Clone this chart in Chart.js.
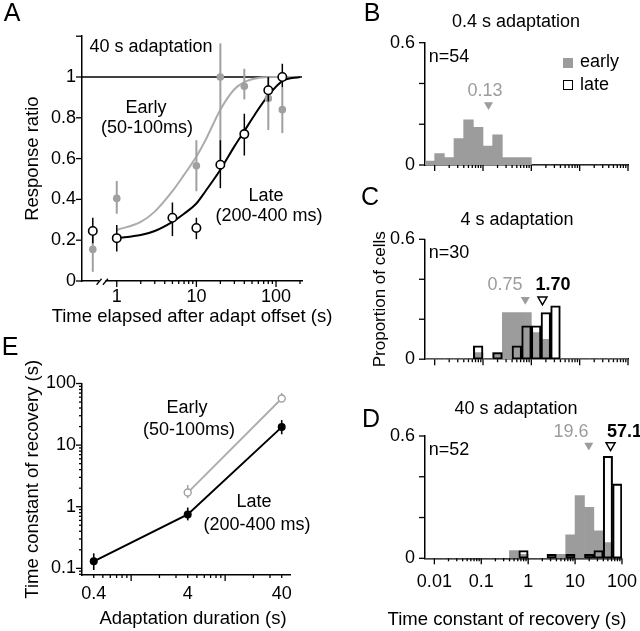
<!DOCTYPE html>
<html>
<head>
<meta charset="utf-8">
<script src="https://cdn.jsdelivr.net/npm/chart.js@4.4.1/dist/chart.umd.min.js"></script>
<style>
  html, body { margin: 0; background: #fff; }
  #fig { position: relative; width: 640px; height: 631px; overflow: hidden; font-family: "Liberation Sans", Arial, sans-serif; color: #000; }
  .box { position: absolute; }
  .t { position: absolute; transform: translate(-50%, -50%); white-space: nowrap; font-size: 18px; line-height: 18px; }
  .t.left { transform: translate(0, -50%); }
  .t.axt { font-size: 18.5px; line-height: 18.5px; }
  .letter { font-size: 25px; line-height: 25px; }
  .gray { color: #9c9c9c; }
  .bold { font-weight: bold; }
  .sq { position: absolute; width: 10px; height: 10px; box-sizing: border-box; }
</style>
</head>
<body>
<div id="fig">
  <div class="box" style="left:0;top:0;width:330px;height:330px"><canvas id="chartA"></canvas></div>
  <div class="box" style="left:330px;top:0;width:320px;height:190px"><canvas id="chartB"></canvas></div>
  <div class="box" style="left:330px;top:190px;width:320px;height:190px"><canvas id="chartC"></canvas></div>
  <div class="box" style="left:330px;top:380px;width:320px;height:251px"><canvas id="chartD"></canvas></div>
  <div class="box" style="left:0;top:330px;width:330px;height:301px"><canvas id="chartE"></canvas></div>

  <!-- panel letters -->
  <div class="t letter" style="left:12px;top:12px">A</div>
  <div class="t letter" style="left:372px;top:12px">B</div>
  <div class="t letter" style="left:370px;top:196px">C</div>
  <div class="t letter" style="left:371px;top:418px">D</div>
  <div class="t letter" style="left:10px;top:346px">E</div>

  <!-- A -->
  <div class="t" style="left:151px;top:46px">40 s adaptation</div>
  <div class="t" style="left:146px;top:107px">Early</div>
  <div class="t" style="left:147px;top:127px">(50-100ms)</div>
  <div class="t" style="left:266px;top:195px">Late</div>
  <div class="t" style="left:269px;top:215px">(200-400 ms)</div>
  <div class="t axt" style="left:192px;top:316px">Time elapsed after adapt offset (s)</div>

  <!-- B -->
  <div class="t" style="left:516px;top:21px">0.4 s adaptation</div>
  <div class="t" style="left:449px;top:56px">n=54</div>
  <div class="sq" style="left:563px;top:58px;background:#9c9c9c"></div>
  <div class="t left" style="left:580px;top:61px">early</div>
  <div class="sq" style="left:563px;top:80px;border:1.5px solid #000"></div>
  <div class="t left" style="left:580px;top:84px">late</div>
  <div class="t gray" style="left:485px;top:90px">0.13</div>

  <!-- C -->
  <div class="t" style="left:517px;top:219px">4 s adaptation</div>
  <div class="t" style="left:449px;top:252px">n=30</div>
  <div class="t gray" style="left:505px;top:284px">0.75</div>
  <div class="t bold" style="left:553px;top:284px">1.70</div>

  <!-- D -->
  <div class="t" style="left:516px;top:408px">40 s adaptation</div>
  <div class="t" style="left:449px;top:449px">n=52</div>
  <div class="t gray" style="left:571px;top:431px">19.6</div>
  <div class="t left bold" style="left:607px;top:431px">57.1</div>
  <div class="t axt" style="left:507px;top:619px">Time constant of recovery (s)</div>

  <!-- E -->
  <div class="t" style="left:187px;top:407px">Early</div>
  <div class="t" style="left:189px;top:429px">(50-100ms)</div>
  <div class="t" style="left:254px;top:501px">Late</div>
  <div class="t" style="left:257px;top:524px">(200-400 ms)</div>
  <div class="t axt" style="left:193px;top:618px">Adaptation duration (s)</div>
</div>

<script>
// DATA ---------------------------------------------------------------------------
// A: recovery of response ratio, 40 s adaptation
const timeLate = [0.5, 1, 5, 10, 20, 40, 80, 120];
const ratioLate = [0.245, 0.21, 0.31, 0.26, 0.57, 0.72, 0.935, 1.0];
const ratioLateLo = [0.185, 0.145, 0.22, 0.205, 0.455, 0.615, 0.88, 0.95];
const ratioLateHi = [0.31, 0.275, 0.385, 0.31, 0.69, 0.82, 1.0, 1.065];

const timeEarly = [0.5, 1, 10, 20, 40, 80, 120];
const ratioEarly = [0.155, 0.405, 0.565, 1.0, 0.955, 0.895, 0.84];
const ratioEarlyLo = [0.045, 0.33, 0.44, 0.58, 0.89, 0.74, 0.725];
const ratioEarlyHi = [0.265, 0.49, 0.69, 1.165, 1.04, 1.0, 0.95];

// fitted recovery curves
const fitTimeEarly = [1, 2, 3, 5, 7, 10, 13, 20, 30, 40, 60, 100, 200];
const fitEarly = [0.25, 0.29, 0.34, 0.44, 0.52, 0.61, 0.69, 0.84, 0.94, 0.975, 0.995, 1, 1];
const fitTimeLate = [1, 2, 3, 5, 7, 10, 13, 20, 30, 40, 55, 80, 120, 200];
const fitLate = [0.21, 0.225, 0.245, 0.29, 0.33, 0.38, 0.44, 0.545, 0.66, 0.735, 0.82, 0.91, 0.98, 1.0];

const timeTicks = [1, 10, 100];
const timeMinor = [2, 3, 4, 5, 6, 7, 8, 9, 20, 30, 40, 50, 60, 70, 80, 90, 200];
const ratioTicks = [0, 0.2, 0.4, 0.6, 0.8, 1, 1.2];
const axisBreak = [0.6, 0.72];

// B-D: histograms of recovery time constants (proportion of cells)
const histBins = ['0.0079', '0.013', '0.020', '0.032', '0.050', '0.079', '0.13', '0.20', '0.32', '0.50',
                  '0.79', '1.3', '2.0', '3.2', '5.0', '7.9', '13', '20', '32', '50', '79'];
const earlyB = [0.019, 0.056, 0.037, 0.130, 0.222, 0.185, 0.093, 0.148, 0.037, 0.037, 0.037, 0, 0, 0, 0, 0, 0, 0, 0, 0, 0];
const earlyC = [0, 0, 0, 0, 0, 0.033, 0, 0.033, 0.233, 0.233, 0.233, 0.133, 0.100, 0, 0, 0, 0, 0, 0, 0, 0];
const lateC = [0, 0, 0, 0, 0, 0.067, 0, 0.033, 0, 0.067, 0.167, 0.167, 0.233, 0.267, 0, 0, 0, 0, 0, 0, 0];
const earlyD = [0, 0, 0, 0, 0, 0, 0, 0, 0, 0.038, 0.019, 0, 0, 0, 0.019, 0.115, 0.308, 0.250, 0.135, 0.077, 0];
const lateD = [0, 0, 0, 0, 0, 0, 0, 0, 0, 0, 0.038, 0, 0, 0.019, 0, 0.019, 0, 0.019, 0.038, 0.500, 0.365];

const medianB = [0.13];
const medianC = [0.75, 1.70];
const medianD = [19.6, 57.1];

const tauTicks = [0.01, 0.1, 1, 10, 100];
const tauMinor = [0.02, 0.03, 0.04, 0.05, 0.06, 0.07, 0.08, 0.09, 0.2, 0.3, 0.4, 0.5, 0.6, 0.7, 0.8, 0.9,
                  2, 3, 4, 5, 6, 7, 8, 9, 20, 30, 40, 50, 60, 70, 80, 90];
const propTicks = [0, 0.2, 0.4, 0.6];

// E: time constant vs adaptation duration
const durLate = [0.4, 4, 40];
const tauLate = [0.13, 0.75, 19.6];
const tauLateLo = [0.094, 0.6, 15];
const tauLateHi = [0.175, 0.97, 25.5];
const durEarly = [4, 40];
const tauEarly = [1.70, 57.1];
const tauEarlyLo = [1.37, 51];
const tauEarlyHi = [2.25, 70];

const durTicks = [0.4, 4, 40];
const durMajor = [1, 10];
const durMinor = [0.4, 0.5, 0.6, 0.7, 0.8, 0.9, 2, 3, 4, 5, 6, 7, 8, 9, 20, 30, 40];
const tauETicks = [0.1, 1, 10, 100];
const tauEMinor = [0.08, 0.09, 0.2, 0.3, 0.4, 0.5, 0.6, 0.7, 0.8, 0.9, 2, 3, 4, 5, 6, 7, 8, 9,
                   20, 30, 40, 50, 60, 70, 80, 90];

// STYLE ---------------------------------------------------------------------------
const GRAY_BAR = '#9c9c9c';
const GRAY_PT = '#a0a0a0';
const GRAY_LINE = '#acacac';

Chart.defaults.font.family = '"Liberation Sans", Arial, sans-serif';
Chart.defaults.font.size = 18;
Chart.defaults.color = '#000';
Chart.defaults.animation = false;
Chart.defaults.events = [];
Chart.defaults.plugins.legend.display = false;
Chart.defaults.plugins.tooltip.enabled = false;
Chart.defaults.maintainAspectRatio = false;

function pts(xs, ys) {
    return xs.map((x, i) => ({ x: x, y: ys[i] }));
}

function fixedTicks(list) {
    return s => { s.ticks = list.map(v => ({ value: v })); };
}

function axis(extra) {
    return Object.assign({
        grid: { display: false, drawTicks: false },
        border: { color: '#000', width: 1.5 },
        ticks: { autoSkip: false, maxRotation: 0 }
    }, extra);
}

// tick marks drawn at scale positions (major longer than minor)
function tickMarks(list) {
    return {
        id: 'tickMarks',
        afterDatasetsDraw(chart) {
            const ctx = chart.ctx;
            ctx.save();
            ctx.strokeStyle = '#000';
            ctx.lineWidth = 1.3;
            list.forEach(a => {
                const s = chart.scales[a.id];
                [[a.major, 6], [a.minor, 3]].forEach(([vals, len]) => {
                    (vals || []).forEach(v => {
                        const p = s.getPixelForValue(v);
                        ctx.beginPath();
                        if (s.isHorizontal()) {
                            ctx.moveTo(p, s.top);
                            ctx.lineTo(p, s.top + len);
                        } else {
                            ctx.moveTo(s.right, p);
                            ctx.lineTo(s.right - len, p);
                        }
                        ctx.stroke();
                    });
                });
            });
            ctx.restore();
        }
    };
}

// vertical error bars, drawn just under each dataset's points
const errorBars = {
    id: 'errorBars',
    beforeDatasetDraw(chart, args) {
        const ds = chart.data.datasets[args.index];
        if (!ds.errLo) return;
        const xs = chart.scales[args.meta.xAxisID];
        const ys = chart.scales[args.meta.yAxisID];
        const ctx = chart.ctx;
        ctx.save();
        ctx.strokeStyle = ds.errColor;
        ctx.lineWidth = ds.errWidth;
        ds.data.forEach((p, i) => {
            const x = xs.getPixelForValue(p.x);
            ctx.beginPath();
            ctx.moveTo(x, ys.getPixelForValue(ds.errLo[i]));
            ctx.lineTo(x, ys.getPixelForValue(ds.errHi[i]));
            ctx.stroke();
        });
        ctx.restore();
    }
};

// PANEL A ----------------------------------------------------------------------------
const breakMarks = {
    id: 'breakMarks',
    afterDraw(chart) {
        const s = chart.scales.x;
        const ctx = chart.ctx;
        const a = s.getPixelForValue(axisBreak[0]);
        const b = s.getPixelForValue(axisBreak[1]);
        const y = s.top + 0.75;
        ctx.save();
        ctx.fillStyle = '#fff';
        ctx.fillRect(a, y - 3, b - a, 6);
        ctx.strokeStyle = '#000';
        ctx.lineWidth = 1.2;
        [a, b].forEach(px => {
            ctx.beginPath();
            ctx.moveTo(px - 2.5, y + 3);
            ctx.lineTo(px + 2.5, y - 3);
            ctx.stroke();
        });
        ctx.restore();
    }
};

new Chart(document.getElementById('chartA'), {
    type: 'scatter',
    data: {
        datasets: [
            {
                label: 'Late', data: pts(timeLate, ratioLate),
                errLo: ratioLateLo, errHi: ratioLateHi, errColor: '#000', errWidth: 1.5,
                pointRadius: 4.2, pointBackgroundColor: '#fff', pointBorderColor: '#000', pointBorderWidth: 1.6,
                order: 0
            },
            {
                label: 'Early', data: pts(timeEarly, ratioEarly),
                errLo: ratioEarlyLo, errHi: ratioEarlyHi, errColor: GRAY_PT, errWidth: 2,
                pointRadius: 3.8, pointBackgroundColor: GRAY_PT, pointBorderColor: GRAY_PT, pointBorderWidth: 0,
                order: 1
            },
            {
                label: 'Late fit', data: pts(fitTimeLate, fitLate), showLine: true,
                borderColor: '#000', borderWidth: 2, pointRadius: 0, cubicInterpolationMode: 'monotone',
                order: 2
            },
            {
                label: 'Early fit', data: pts(fitTimeEarly, fitEarly), showLine: true,
                borderColor: GRAY_LINE, borderWidth: 2, pointRadius: 0, cubicInterpolationMode: 'monotone',
                order: 3
            },
            {
                label: 'Full recovery', data: pts([0.366, 212], [1, 1]), showLine: true,
                borderColor: '#000', borderWidth: 1.5, pointRadius: 0,
                order: 4
            }
        ]
    },
    options: {
        layout: { padding: { top: 36.2, right: 28, left: 0, bottom: 0 } },
        scales: {
            x: axis({
                type: 'logarithmic', min: 0.366, max: 212,
                afterFit: s => { s.height = 49; },
                afterBuildTicks: fixedTicks(timeTicks),
                ticks: { autoSkip: false, maxRotation: 0, padding: 5, callback: v => String(v) }
            }),
            y: axis({
                type: 'linear', min: 0, max: 1.2,
                afterFit: s => { s.width = 82; },
                afterBuildTicks: fixedTicks(ratioTicks),
                ticks: { autoSkip: false, padding: 6, callback: v => (v > 1.05 ? '' : String(v)) },
                title: { display: true, text: 'Response ratio', font: { size: 18.5 }, padding: { top: 21.7, bottom: 0 } }
            })
        }
    },
    plugins: [errorBars, breakMarks, tickMarks([
        { id: 'x', major: timeTicks, minor: timeMinor },
        { id: 'y', major: ratioTicks }
    ])]
});

// PANELS B-D -------------------------------------------------------------------------
function histPanel(canvasId, early, late, medians, cfg) {
    const datasets = [];
    if (late) {
        datasets.push({
            type: 'bar', label: 'late outline', data: late, xAxisID: 'xc',
            backgroundColor: 'rgba(0,0,0,0)', borderColor: '#000', borderWidth: 1.4, borderSkipped: false,
            order: 0
        });
    }
    datasets.push({
        type: 'bar', label: 'early', data: early, xAxisID: 'xc',
        backgroundColor: GRAY_BAR, borderWidth: 0, order: 1
    });
    if (late) {
        datasets.push({
            type: 'bar', label: 'late', data: late, xAxisID: 'xc',
            backgroundColor: '#fff', borderWidth: 0, order: 2
        });
    }
    medians.forEach((m, i) => {
        const isLate = i === 1;
        datasets.push({
            type: 'scatter', label: 'median', data: [{ x: m, y: cfg.markerY }], xAxisID: 'xl',
            pointStyle: 'triangle', rotation: 180, pointRadius: 5.2,
            pointBackgroundColor: isLate ? '#fff' : GRAY_BAR,
            pointBorderColor: isLate ? '#000' : GRAY_BAR,
            pointBorderWidth: isLate ? 1.5 : 0,
            order: -1
        });
    });

    new Chart(document.getElementById(canvasId), {
        type: 'bar',
        data: { labels: histBins, datasets: datasets },
        options: {
            datasets: { bar: { barPercentage: 1, categoryPercentage: 1, grouped: false } },
            layout: { padding: { top: cfg.top, right: 22, left: 0, bottom: 0 } },
            scales: {
                xc: { type: 'category', display: false, offset: true },
                xl: axis({
                    type: 'logarithmic', position: 'bottom', min: 0.0063096, max: 100, offset: false,
                    afterFit: s => { s.height = cfg.xh; },
                    afterBuildTicks: fixedTicks(tauTicks),
                    ticks: { display: !!cfg.xLabels, autoSkip: false, maxRotation: 0, padding: 13, callback: v => String(v) }
                }),
                y: axis({
                    type: 'linear', min: 0, max: 0.6,
                    afterFit: s => { s.width = 95; },
                    afterBuildTicks: fixedTicks(propTicks),
                    ticks: { autoSkip: false, padding: 10, callback: v => ((v === 0 || v === 0.6) ? String(v) : '') },
                    title: cfg.yTitle
                        ? { display: true, text: cfg.yTitle, font: { size: 17 }, padding: { top: 39.8, bottom: 0 } }
                        : { display: false }
                })
            }
        },
        plugins: [tickMarks([
            { id: 'xl', major: tauTicks, minor: tauMinor },
            { id: 'y', major: propTicks }
        ])]
    });
}

histPanel('chartB', earlyB, null, medianB, { top: 42.7, xh: 25, markerY: 0.295 });
histPanel('chartC', earlyC, lateC, medianC, { top: 49.3, xh: 18.3, markerY: 0.298, yTitle: 'Proportion of cells' });
histPanel('chartD', earlyD, lateD, medianD, { top: 56, xh: 72.7, markerY: 0.554, xLabels: true });

// PANEL E ----------------------------------------------------------------------------
new Chart(document.getElementById('chartE'), {
    type: 'scatter',
    data: {
        datasets: [
            {
                label: 'Late', data: pts(durLate, tauLate), showLine: true,
                errLo: tauLateLo, errHi: tauLateHi, errColor: '#000', errWidth: 1.6,
                borderColor: '#000', borderWidth: 2,
                pointRadius: 4, pointBackgroundColor: '#000', pointBorderColor: '#000', pointBorderWidth: 0,
                order: 0
            },
            {
                label: 'Early', data: pts(durEarly, tauEarly), showLine: true,
                errLo: tauEarlyLo, errHi: tauEarlyHi, errColor: GRAY_PT, errWidth: 1.4,
                borderColor: GRAY_LINE, borderWidth: 1.8,
                pointRadius: 3.5, pointBackgroundColor: '#fff', pointBorderColor: GRAY_PT, pointBorderWidth: 1.4,
                order: 1
            }
        ]
    },
    options: {
        layout: { padding: { top: 53.5, right: 40, left: 0, bottom: 0 } },
        scales: {
            x: axis({
                type: 'logarithmic', min: 0.308, max: 49,
                afterFit: s => { s.height = 56; },
                afterBuildTicks: fixedTicks(durTicks),
                ticks: { autoSkip: false, maxRotation: 0, padding: 8, callback: v => String(v) }
            }),
            y: axis({
                type: 'logarithmic', min: 0.078, max: 100,
                afterFit: s => { s.width = 82; },
                afterBuildTicks: fixedTicks(tauETicks),
                ticks: { autoSkip: false, padding: 6, callback: v => String(v) },
                title: { display: true, text: 'Time constant of recovery (s)', font: { size: 18.5 }, padding: { top: 22.2, bottom: 0 } }
            })
        }
    },
    plugins: [errorBars, tickMarks([
        { id: 'x', major: durMajor, minor: durMinor },
        { id: 'y', major: tauETicks, minor: tauEMinor }
    ])]
});
</script>
</body>
</html>
